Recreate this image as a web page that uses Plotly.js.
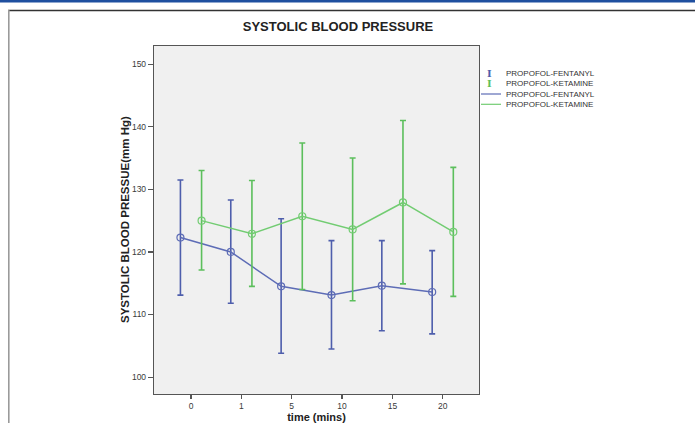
<!DOCTYPE html>
<html>
<head>
<meta charset="utf-8">
<script src="https://cdn.plot.ly/plotly-3.0.1.min.js"></script>
<style>html,body{margin:0;padding:0;background:#fff;}#chart{width:695px;height:423px;}</style>
</head>
<body>
<div id="chart"></div>
<script>
const timeCats = ["0", "1", "5", "10", "15", "20"];
const fentMean = [122.3, 120.0, 114.5, 113.1, 114.6, 113.6];
const fentUpper = [131.5, 128.3, 125.3, 121.8, 121.8, 120.2];
const fentLower = [113.1, 111.8, 103.8, 104.5, 107.4, 106.9];
const ketMean = [125.0, 122.9, 125.7, 123.6, 127.9, 123.2];
const ketUpper = [133.0, 131.4, 137.4, 135.0, 141.0, 133.5];
const ketLower = [117.1, 114.5, 114.0, 112.2, 114.9, 112.9];
const groupNames = ["PROPOFOL-FENTANYL", "PROPOFOL-KETAMINE"];

const blue = "#5d6cb6";
const blueBar = "#4e5eac";
const green = "#72cc72";
const greenBar = "#5cbf5c";

function errs(mean, up, lo) {
  return {
    type: "data", symmetric: false,
    array: up.map((u, i) => u - mean[i]),
    arrayminus: lo.map((l, i) => mean[i] - l)
  };
}

const fent = {
  type: "scatter", mode: "lines+markers", x: timeCats, y: fentMean,
  name: groupNames[0], showlegend: false, offsetgroup: "a",
  line: {color: blue, width: 1.5},
  marker: {symbol: "circle-open", size: 7, color: blue, line: {width: 1.2}},
  error_y: Object.assign(errs(fentMean, fentUpper, fentLower), {color: blueBar, thickness: 1.6, width: 3})
};
const ket = {
  type: "scatter", mode: "lines+markers", x: timeCats, y: ketMean,
  name: groupNames[1], showlegend: false, offsetgroup: "b",
  line: {color: green, width: 1.5},
  marker: {symbol: "circle-open", size: 7, color: green, line: {width: 1.2}},
  error_y: Object.assign(errs(ketMean, ketUpper, ketLower), {color: greenBar, thickness: 1.6, width: 3})
};

// pixel -> paper helpers (plot area 154..479 x, 46..394 y)
const L = 154, R = 479, T = 46, B = 394;
const px = v => (v - L) / (R - L);
const py = v => (B - v) / (B - T);

const shapes = [
  {type: "rect", xref: "paper", yref: "paper", x0: px(0), x1: px(695), y0: py(0), y1: py(2.6), fillcolor: "#1f4f9f", line: {width: 0}},
  {type: "line", xref: "paper", yref: "paper", x0: px(8), x1: px(696), y0: py(10.5), y1: py(10.5), line: {color: "#333", width: 1.6}},
  {type: "line", xref: "paper", yref: "paper", x0: px(8.8), x1: px(8.8), y0: py(10), y1: py(424), line: {color: "#9a9a9a", width: 1.6}},
  {type: "line", xref: "paper", yref: "paper", x0: px(481), x1: px(501), y0: py(94), y1: py(94), line: {color: blue, width: 1.2}},
  {type: "line", xref: "paper", yref: "paper", x0: px(481), x1: px(501), y0: py(104.3), y1: py(104.3), line: {color: green, width: 1.2}}
];

const legFont = {family: "Liberation Sans, Arial, sans-serif", size: 8, color: "#333"};
const annotations = [
  {xref: "paper", yref: "paper", x: px(504), y: py(73.3), xanchor: "left", yanchor: "middle", text: groupNames[0], showarrow: false, font: legFont},
  {xref: "paper", yref: "paper", x: px(504), y: py(83.5), xanchor: "left", yanchor: "middle", text: groupNames[1], showarrow: false, font: legFont},
  {xref: "paper", yref: "paper", x: px(504), y: py(94), xanchor: "left", yanchor: "middle", text: groupNames[0], showarrow: false, font: legFont},
  {xref: "paper", yref: "paper", x: px(504), y: py(104.3), xanchor: "left", yanchor: "middle", text: groupNames[1], showarrow: false, font: legFont},
  {xref: "paper", yref: "paper", x: px(489.5), y: py(73.3), xanchor: "center", yanchor: "middle", text: "I", showarrow: false, font: {family: "DejaVu Serif, serif", size: 10, color: blueBar, weight: "bold"}},
  {xref: "paper", yref: "paper", x: px(489.5), y: py(83.5), xanchor: "center", yanchor: "middle", text: "I", showarrow: false, font: {family: "DejaVu Serif, serif", size: 10, color: greenBar, weight: "bold"}},
  {xref: "paper", yref: "paper", x: px(125), y: py(220), xanchor: "center", yanchor: "middle", textangle: -90, text: "SYSTOLIC BLOOD PRESSUE(mm Hg)", showarrow: false,
    font: {family: "Liberation Sans, Arial, sans-serif", size: 11.5, color: "#222", weight: "bold"}}
];

const tickFont = {family: "Liberation Sans, Arial, sans-serif", size: 8.5, color: "#3a3a3a"};
const layout = {
  width: 695, height: 423,
  margin: {l: L, r: 695 - R, t: T, b: 423 - B, pad: 0},
  paper_bgcolor: "#ffffff", plot_bgcolor: "#f0f0f0",
  scattermode: "group", scattergap: 0.16,
  title: {text: "SYSTOLIC BLOOD PRESSURE", x: 338 / 695, xanchor: "center", y: 1 - 26 / 423, yanchor: "middle",
    font: {family: "Liberation Sans, Arial, sans-serif", size: 13, color: "#222", weight: "bold"}},
  xaxis: {
    type: "category", range: [-0.735, 5.72], showgrid: false, zeroline: false,
    showline: true, linecolor: "#555", linewidth: 1.2, mirror: true,
    ticks: "outside", ticklen: 4, tickcolor: "#555", tickwidth: 1.2,
    tickfont: tickFont,
    title: {text: "time (mins)", standoff: 9, font: {family: "Liberation Sans, Arial, sans-serif", size: 11, color: "#222", weight: "bold"}}
  },
  yaxis: {
    range: [97.3, 152.9], tickvals: [100, 110, 120, 130, 140, 150], showgrid: false, zeroline: false,
    showline: true, linecolor: "#555", linewidth: 1.2, mirror: true,
    ticks: "outside", ticklen: 5, tickcolor: "#555", tickwidth: 1.2,
    tickfont: tickFont
  },
  shapes: shapes,
  annotations: annotations,
  showlegend: false
};

Plotly.newPlot("chart", [fent, ket], layout, {displayModeBar: false, staticPlot: true});
</script>
</body>
</html>
